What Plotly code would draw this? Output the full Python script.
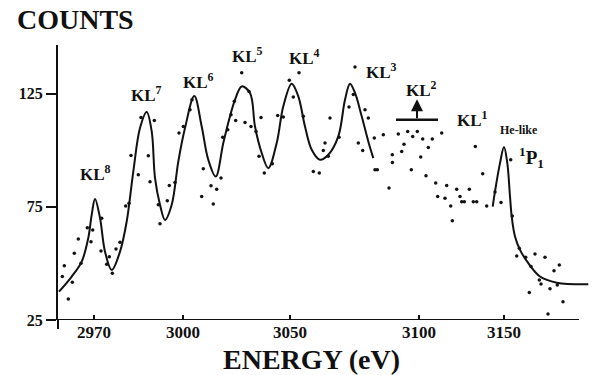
import plotly.graph_objects as go

# Detector channel -> energy calibration used for the tick labels
tick_channel = [18, 62.5, 116, 180.5, 223]
tick_energy = ["2970", "3000", "3050", "3100", "3150"]
count_ticks = [25, 75, 125]

# Fitted satellite envelope (KL^8 ... KL^3)
fit_ch = [0.5, 6.85, 11.85, 15.15, 16.85, 18.5, 21, 23.5, 26.85, 31, 34.35, 37.65,
          41, 44.35, 46.85, 48.5, 51, 53.5, 56.85, 60.15, 63.5, 68.15, 71.85, 75.15,
          78.85, 82.65, 86, 88.5, 91.85, 96, 98.5, 101.85, 105.15, 109.35, 112.65,
          116.85, 120.15, 123.5, 126.85, 131, 135.15, 140.15, 143.5, 146, 148.5,
          151.85, 155.15, 157.65]
fit_counts = [37.5, 44.2, 50.8, 61.3, 71.5, 78.5, 70.1, 55.2, 47.1, 55.2, 68.5, 90.6,
              109.8, 116.9, 108.3, 87.8, 75.9, 69.2, 75.9, 95.0, 109.8, 124.0, 110.5, 95.8,
              88.4, 103.2, 115.0, 122.3, 128.2, 125.3, 110.5, 98.8, 92.1, 103.2, 119.4,
              129.4, 123.8, 110.5, 100.2, 95.8, 98.0, 106.1, 122.3, 129.4, 125.3,
              115.0, 103.9, 96.5]

# Fitted He-like 1P1 resonance line
he_ch = [217.35, 218.5, 221, 223, 224.65, 226, 226.85, 228.5, 231, 235.15, 241,
         249.35, 265.15]
he_counts = [75.1, 81.8, 94.3, 101.4, 94.3, 79.6, 70.7, 61.9, 56.0, 50.1, 44.2,
             41.5, 40.8]

# Measured counts
meas_ch = [2.15, 3.15, 5.15, 7.15, 8.15, 10.15, 11.5, 14.65, 16.5, 17.35, 21.85, 21.5,
           24.35, 25.65, 27.15, 29, 31, 33.85, 35.5, 36.5, 40.15, 41.5, 48.15, 45.15,
           46, 50.15, 51, 54.65, 55.65, 58.5, 60.5, 62.65, 66, 67, 72.65, 71.85,
           76.5, 77.65, 79.35, 81.5, 82.35, 84.85, 86.5, 88.15, 88.85, 91.85, 93.5,
           95.5, 96.5, 99, 101.5, 100.5, 103.15, 107.15, 109.85, 112.65, 115.65,
           117.65, 120.5, 122.65, 127.65, 130.65, 132.65, 133.5, 136, 135.15, 140.5,
           145.5, 148.5, 147.65, 150.15, 152.35, 153.5, 155.15, 158.15, 158.5, 159.65,
           162.65, 165.5, 167.15, 167.2, 170.15, 171.85, 173, 174.85, 177.35, 179.65,
           176.65, 181.35, 182.35, 184, 185.15, 187.15, 188.85, 189.85, 191.85, 193.5,
           194.35, 196.35, 197.15, 199.35, 201, 201.85, 203.15, 205.65, 207.65, 209.35,
           208.65, 212.35, 214.35, 218.5, 221.5, 226.35, 227.15, 230.65, 229.35,
           233.85, 238.5, 243.5, 236.5, 240.65, 241.5, 246, 248, 250.65, 249.65,
           235.65, 252.5, 245]
meas_counts = [44.2, 49.0, 34.3, 41.7, 54.5, 60.8, 50.1, 65.8, 59.6, 64.8, 70.0, 55.5,
               49.6, 53.0, 45.7, 56.4, 59.4, 75.4, 76.6, 97.7, 89.2, 114.5, 113.1, 97.6,
               86.1, 75.9, 67.5, 77.7, 84.4, 85.8, 107.6, 110.5, 117.9, 122.3, 91.8, 79.6,
               84.3, 76.2, 82.8, 87.7, 105.7, 109.1, 115.7, 121.6, 113.1, 134.2, 112.3,
               126.0, 110.5, 108.3, 114.5, 97.3, 89.9, 94.0, 115.3, 114.7, 130.9,
               123.5, 134.2, 115.0, 90.6, 89.9, 99.9, 103.2, 114.2, 97.3, 105.7,
               119.1, 136.8, 124.6, 103.2, 99.9, 117.9, 114.2, 105.4, 91.4, 91.4,
               106.9, 83.3, 98.0, 94.6, 107.2, 99.5, 102.7, 108.3, 106.1, 108.3,
               91.4, 97.0, 105.0, 88.7, 101.2, 105.0, 85.5, 79.6, 107.6, 78.8,
               84.4, 75.4, 68.9, 82.8, 79.6, 77.3, 77.3, 82.8, 77.3, 77.3,
               101.7, 89.6, 75.4, 81.5, 76.9, 95.8, 71.0, 56.7, 53.3,
               52.7, 54.2, 52.7, 48.6, 42.7, 40.9, 38.8, 46.8, 49.3, 40.5,
               37.1, 33.1, 27.7]

SERIF = "Liberation Serif"
INK = "#111111"

fig = go.Figure()

fig.add_trace(go.Scatter(
    x=fit_ch + [None] + he_ch,
    y=fit_counts + [None] + he_counts,
    mode="lines",
    line=dict(color=INK, width=2, shape="spline", smoothing=1.0),
    connectgaps=False,
    hoverinfo="skip",
))

fig.add_trace(go.Scatter(
    x=meas_ch, y=meas_counts,
    mode="markers",
    marker=dict(color=INK, size=3.5),
    hoverinfo="skip",
))

# Line labels
labels = [
    ("KL<sup>8</sup>", 18.5, 90.0, 17),
    ("KL<sup>7</sup>", 44.0, 125.0, 17),
    ("KL<sup>6</sup>", 70.0, 130.8, 17),
    ("KL<sup>5</sup>", 94.75, 142.3, 17),
    ("KL<sup>4</sup>", 123.0, 141.4, 17),
    ("KL<sup>3</sup>", 161.5, 135.2, 17),
    ("KL<sup>2</sup>", 181.5, 127.2, 17),
    ("KL<sup>1</sup>", 207.0, 113.9, 17),
    ("He-like", 230.5, 109.1, 12),
    ("<sup>1</sup>P<sub>1</sub>", 236.5, 96.7, 19),
]
for text, x, y, size in labels:
    fig.add_annotation(
        x=x, y=y, xref="x", yref="y", text=text, showarrow=False,
        font=dict(family=SERIF, size=size, color=INK, weight="bold"),
        xanchor="center", yanchor="middle",
    )

# KL^2 marker: bar with upward arrow
fig.add_shape(type="line", xref="x", yref="y", x0=169, x1=190, y0=113.5, y1=113.5,
              line=dict(color=INK, width=2.5))
fig.add_annotation(x=179.5, y=122.5, ax=179.5, ay=113.5, xref="x", yref="y",
                   axref="x", ayref="y", text="", showarrow=True,
                   arrowhead=2, arrowsize=1.2, arrowwidth=2, arrowcolor=INK)

# Energy axis baseline, and the short stub of the count axis below it
fig.add_shape(type="line", xref="x", yref="y", x0=0, x1=260.5, y0=25, y1=25,
              line=dict(color=INK, width=2))
fig.add_shape(type="line", xref="paper", yref="paper", x0=0, x1=0, y0=0, y1=-0.033,
              line=dict(color=INK, width=2))

fig.add_annotation(x=-0.081, y=1.093, xref="paper", yref="paper", text="COUNTS",
                   showarrow=False, xanchor="left", yanchor="middle",
                   font=dict(family=SERIF, size=28, color=INK, weight="bold"))
fig.add_annotation(x=0.4756, y=-0.145, xref="paper", yref="paper", text="ENERGY (eV)",
                   showarrow=False, xanchor="center", yanchor="middle",
                   font=dict(family=SERIF, size=28, color=INK, weight="bold"))

fig.update_layout(
    width=603, height=375,
    margin=dict(l=58, r=13, t=45, b=55),
    paper_bgcolor="white", plot_bgcolor="white",
    showlegend=False,
    xaxis=dict(
        range=[0, 266], showgrid=False, zeroline=False, showline=False,
        tickmode="array", tickvals=tick_channel, ticktext=tick_energy,
        ticks="inside", ticklen=5, tickwidth=2, tickcolor=INK,
        tickfont=dict(family=SERIF, size=17, color=INK, weight="bold"),
    ),
    yaxis=dict(
        range=[25, 146.5], showgrid=False, zeroline=False,
        showline=True, linewidth=2, linecolor=INK,
        tickmode="array", tickvals=count_ticks,
        ticks="outside", ticklen=10, tickwidth=2, tickcolor=INK,
        tickfont=dict(family=SERIF, size=16, color=INK, weight="bold"),
    ),
)

fig.write_html("out.html")
